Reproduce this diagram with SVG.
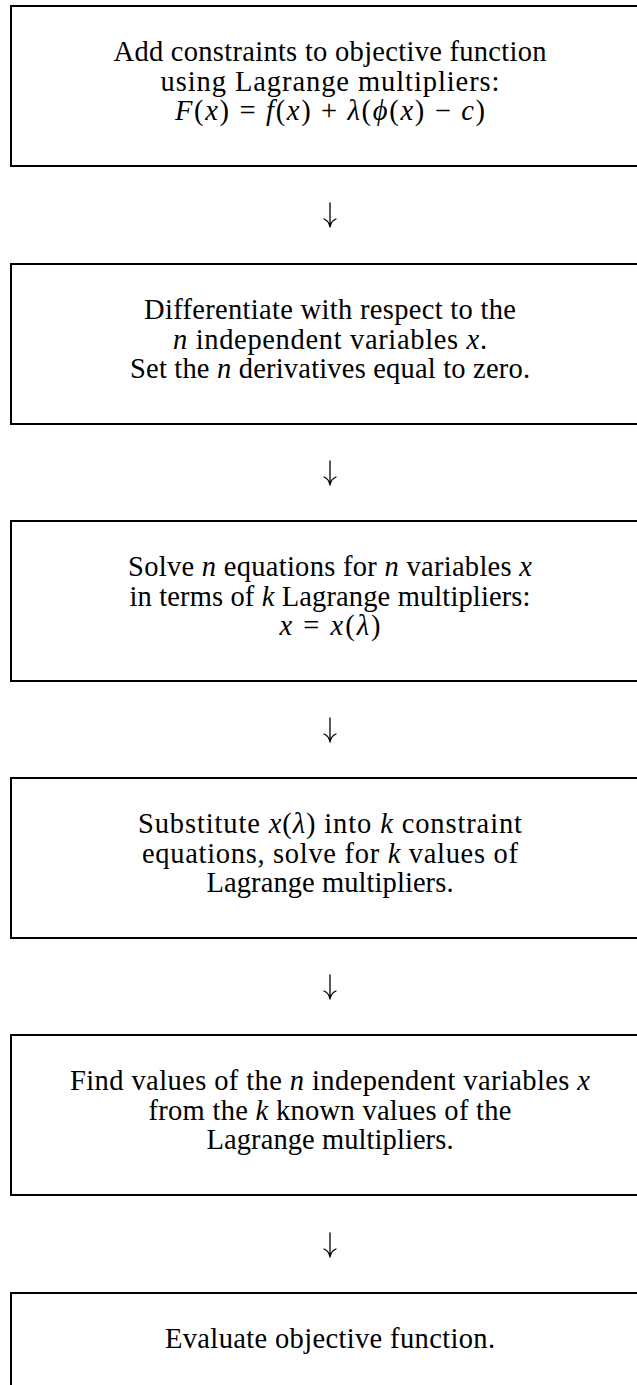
<svg xmlns="http://www.w3.org/2000/svg" width="637" height="1385" viewBox="0 0 637 1385">
<style>
.box{fill:#fff;stroke:#000;stroke-width:2}
.t{font-family:"Liberation Serif","Times New Roman",serif;font-size:28.5px;fill:#000;text-anchor:middle}
.m{font-style:italic}
.arr{fill:none;stroke:#000;stroke-width:1.3;stroke-linecap:round;stroke-linejoin:round}
</style>
<rect width="637" height="1385" fill="#fff"/>
<g id="connectors">
<path class="arr" d="M330,203 V227 M324,219 Q329,221 330,227 Q331,221 336,219"/>
<path class="arr" d="M330,461 V485 M324,477 Q329,479 330,485 Q331,479 336,477"/>
<path class="arr" d="M330,718 V742 M324,734 Q329,736 330,742 Q331,736 336,734"/>
<path class="arr" d="M330,975 V999 M324,991 Q329,993 330,999 Q331,993 336,991"/>
<path class="arr" d="M330,1233 V1257 M324,1249 Q329,1251 330,1257 Q331,1251 336,1249"/>
</g>
<g id="node1">
<rect class="box" x="11" y="6" width="640" height="160"/>
<text class="t" x="330" y="61" textLength="433" lengthAdjust="spacing">Add constraints to objective function</text>
<text class="t" x="330" y="90.5" textLength="339" lengthAdjust="spacing">using Lagrange multipliers:</text>
<text class="t" x="330" y="120" textLength="310" lengthAdjust="spacing"><tspan class="m">F</tspan>(<tspan class="m">x</tspan>) = <tspan class="m">f</tspan>(<tspan class="m">x</tspan>) + <tspan class="m">λ</tspan>(<tspan class="m">ϕ</tspan>(<tspan class="m">x</tspan>) − <tspan class="m">c</tspan>)</text>
</g>
<g id="node2">
<rect class="box" x="11" y="264" width="640" height="160"/>
<text class="t" x="330" y="319" textLength="372" lengthAdjust="spacing">Differentiate with respect to the</text>
<text class="t" x="330" y="348.5" textLength="314" lengthAdjust="spacing"><tspan class="m">n</tspan> independent variables <tspan class="m">x</tspan>.</text>
<text class="t" x="330" y="378" textLength="400" lengthAdjust="spacing">Set the <tspan class="m">n</tspan> derivatives equal to zero.</text>
</g>
<g id="node3">
<rect class="box" x="11" y="521" width="640" height="160"/>
<text class="t" x="330" y="576" textLength="404" lengthAdjust="spacing">Solve <tspan class="m">n</tspan> equations for <tspan class="m">n</tspan> variables <tspan class="m">x</tspan></text>
<text class="t" x="330" y="605.5" textLength="401" lengthAdjust="spacing">in terms of <tspan class="m">k</tspan> Lagrange multipliers:</text>
<text class="t" x="330" y="635" textLength="101" lengthAdjust="spacing"><tspan class="m">x</tspan> = <tspan class="m">x</tspan>(<tspan class="m">λ</tspan>)</text>
</g>
<g id="node4">
<rect class="box" x="11" y="778" width="640" height="160"/>
<text class="t" x="330" y="833" textLength="384" lengthAdjust="spacing">Substitute <tspan class="m">x</tspan>(<tspan class="m">λ</tspan>) into <tspan class="m">k</tspan> constraint</text>
<text class="t" x="330" y="862.5" textLength="376" lengthAdjust="spacing">equations, solve for <tspan class="m">k</tspan> values of</text>
<text class="t" x="330" y="892" textLength="247" lengthAdjust="spacing">Lagrange multipliers.</text>
</g>
<g id="node5">
<rect class="box" x="11" y="1035" width="640" height="160"/>
<text class="t" x="330" y="1090" textLength="520" lengthAdjust="spacing">Find values of the <tspan class="m">n</tspan> independent variables <tspan class="m">x</tspan></text>
<text class="t" x="330" y="1119.5" textLength="363" lengthAdjust="spacing">from the <tspan class="m">k</tspan> known values of the</text>
<text class="t" x="330" y="1149" textLength="247" lengthAdjust="spacing">Lagrange multipliers.</text>
</g>
<g id="node6">
<rect class="box" x="11" y="1293" width="640" height="160"/>
<text class="t" x="330" y="1348" textLength="330" lengthAdjust="spacing">Evaluate objective function.</text>
</g>
</svg>
